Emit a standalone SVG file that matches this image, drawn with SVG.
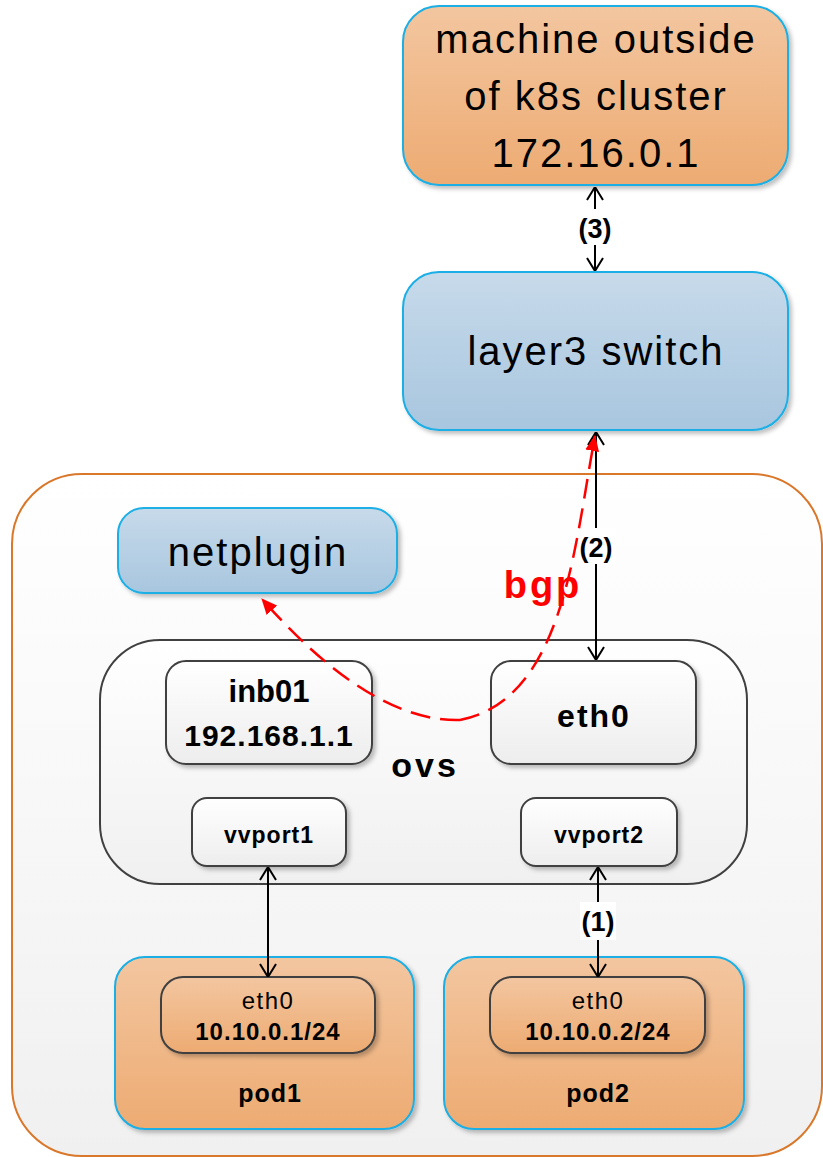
<svg xmlns="http://www.w3.org/2000/svg" width="823" height="1157" viewBox="0 0 823 1157">
  <defs>
    <linearGradient id="gOrange" x1="0" y1="0" x2="0" y2="1">
      <stop offset="0" stop-color="#F3C6A0"/>
      <stop offset="1" stop-color="#EDAB72"/>
    </linearGradient>
    <linearGradient id="gBlue" x1="0" y1="0" x2="0" y2="1">
      <stop offset="0" stop-color="#C7DAEA"/>
      <stop offset="1" stop-color="#A8C6DF"/>
    </linearGradient>
    <linearGradient id="gGray" x1="0" y1="0" x2="0" y2="1">
      <stop offset="0" stop-color="#FFFFFF"/>
      <stop offset="1" stop-color="#EDEDED"/>
    </linearGradient>
    <linearGradient id="gPanel" x1="0" y1="0" x2="0" y2="1">
      <stop offset="0" stop-color="#FFFFFF"/>
      <stop offset="1" stop-color="#F0F0F0"/>
    </linearGradient>
    <filter id="shadow" x="-10%" y="-10%" width="130%" height="130%">
      <feDropShadow dx="3" dy="3" stdDeviation="2" flood-color="#000" flood-opacity="0.25"/>
    </filter>
    <marker id="open" viewBox="0 0 14 18" refX="14" refY="9" markerWidth="14" markerHeight="18" markerUnits="userSpaceOnUse" orient="auto-start-reverse">
      <path d="M1,1 L14,9 L1,17" fill="none" stroke="#000" stroke-width="2"/>
    </marker>
    <marker id="redHead" viewBox="0 0 16 14" refX="15" refY="7" markerWidth="16" markerHeight="14" markerUnits="userSpaceOnUse" orient="auto">
      <path d="M0,0 L16,7 L0,14 Z" fill="#FF0000"/>
    </marker>
    <style>
      .big { font-family: "Liberation Sans", Arial, sans-serif; font-size: 40px; letter-spacing: 2px; fill: #000; text-anchor: middle; }
      .bold { font-family: "Liberation Sans", Arial, sans-serif; font-weight: bold; fill: #000; text-anchor: middle; }
      .reg { font-family: "Liberation Sans", Arial, sans-serif; fill: #000; text-anchor: middle; }
      .lbl { font-family: "Liberation Sans", Arial, sans-serif; font-weight: bold; font-size: 27px; fill: #000; text-anchor: middle; }
      .cyan { stroke: #1AAFE6; stroke-width: 2; }
      .dark { stroke: #404040; stroke-width: 2; }
      .conn { stroke: #000; stroke-width: 2; fill: none; }
      .bgp { fill: none; stroke: #FF0000; stroke-width: 2.5; stroke-dasharray: 20 10; }
    </style>
  </defs>

  <rect width="823" height="1157" fill="#FFFFFF"/>

  <!-- k8s node boundary -->
  <g id="node-host">
    <rect x="12" y="474" width="810" height="682" rx="70" ry="70" fill="url(#gPanel)" stroke="#D9772A" stroke-width="2"/>
  </g>

  <!-- external machine -->
  <g id="node-external">
    <rect x="403" y="6" width="385" height="179" rx="36" ry="36" fill="url(#gOrange)" class="cyan" filter="url(#shadow)"/>
    <text class="big" x="596" y="53">machine outside</text>
    <text class="big" x="596" y="110">of k8s cluster</text>
    <text class="big" x="596" y="167">172.16.0.1</text>
  </g>

  <!-- switch -->
  <g id="node-switch">
    <rect x="403" y="272" width="385" height="158" rx="36" ry="36" fill="url(#gBlue)" class="cyan" filter="url(#shadow)"/>
    <text class="big" x="596" y="365">layer3 switch</text>
  </g>

  <!-- netplugin -->
  <g id="node-netplugin">
    <rect x="118" y="508" width="279" height="85" rx="26" ry="26" fill="url(#gBlue)" class="cyan" filter="url(#shadow)"/>
    <text class="big" x="258" y="566">netplugin</text>
  </g>

  <!-- ovs bridge -->
  <g id="node-ovs">
    <rect x="100" y="640" width="647" height="244" rx="60" ry="60" fill="url(#gPanel)" class="dark"/>
    <text class="bold" x="425" y="777" font-size="34" letter-spacing="3">ovs</text>
  </g>

  <g id="node-inb01">
    <rect x="166" y="661" width="206" height="103" rx="20" ry="20" fill="url(#gGray)" class="dark" filter="url(#shadow)"/>
    <text class="bold" x="269" y="702" font-size="31">inb01</text>
    <text class="bold" x="269" y="746" font-size="30" letter-spacing="1">192.168.1.1</text>
  </g>

  <g id="node-eth0">
    <rect x="491" y="661" width="205" height="103" rx="20" ry="20" fill="url(#gGray)" class="dark" filter="url(#shadow)"/>
    <text class="bold" x="594" y="727" font-size="32" letter-spacing="2">eth0</text>
  </g>

  <g id="node-vvport1">
    <rect x="192" y="798" width="154" height="68" rx="15" ry="15" fill="url(#gGray)" class="dark" filter="url(#shadow)"/>
    <text class="bold" x="269" y="843" font-size="23" letter-spacing="1">vvport1</text>
  </g>

  <g id="node-vvport2">
    <rect x="521" y="798" width="156" height="68" rx="15" ry="15" fill="url(#gGray)" class="dark" filter="url(#shadow)"/>
    <text class="bold" x="599" y="843" font-size="23" letter-spacing="1">vvport2</text>
  </g>

  <!-- pods -->
  <g id="node-pod1">
    <rect x="115" y="957" width="299" height="172" rx="30" ry="30" fill="url(#gOrange)" class="cyan" filter="url(#shadow)"/>
    <rect x="161" y="977" width="214" height="76" rx="22" ry="22" fill="url(#gOrange)" class="dark" filter="url(#shadow)"/>
    <text class="reg" x="268" y="1009" font-size="24" letter-spacing="1.5">eth0</text>
    <text class="bold" x="268" y="1040" font-size="24" letter-spacing="1">10.10.0.1/24</text>
    <text class="bold" x="270" y="1102" font-size="25" letter-spacing="1">pod1</text>
  </g>

  <g id="node-pod2">
    <rect x="444" y="957" width="300" height="172" rx="30" ry="30" fill="url(#gOrange)" class="cyan" filter="url(#shadow)"/>
    <rect x="490" y="977" width="215" height="76" rx="22" ry="22" fill="url(#gOrange)" class="dark" filter="url(#shadow)"/>
    <text class="reg" x="598" y="1009" font-size="24" letter-spacing="1.5">eth0</text>
    <text class="bold" x="598" y="1040" font-size="24" letter-spacing="1">10.10.0.2/24</text>
    <text class="bold" x="598" y="1102" font-size="25" letter-spacing="1">pod2</text>
  </g>

  <!-- connectors -->
  <g id="connectors">
    <!-- (3) external machine to switch -->
    <line class="conn" x1="595" y1="187" x2="595" y2="271" marker-start="url(#open)" marker-end="url(#open)"/>
    <rect x="574" y="209" width="42" height="36" fill="#FFFFFF"/>
    <text class="lbl" x="595" y="238">(3)</text>

    <!-- (2) switch to eth0 -->
    <line class="conn" x1="596" y1="432" x2="596" y2="660" marker-start="url(#open)" marker-end="url(#open)"/>
    <rect x="576" y="528" width="40" height="36" fill="#FFFFFF"/>
    <text class="lbl" x="596" y="557">(2)</text>

    <!-- vvport1 to pod1 eth0 -->
    <line class="conn" x1="268" y1="867" x2="268" y2="977" marker-start="url(#open)" marker-end="url(#open)"/>

    <!-- (1) vvport2 to pod2 eth0 -->
    <line class="conn" x1="598" y1="867" x2="598" y2="977" marker-start="url(#open)" marker-end="url(#open)"/>
    <rect x="580" y="902" width="36" height="38" fill="#FFFFFF"/>
    <text class="lbl" x="598" y="931">(1)</text>

    <!-- bgp session path -->
    <path class="bgp" d="M 460 720 C 565 700, 575 540, 595 436" marker-end="url(#redHead)"/>
    <path class="bgp" d="M 460 720 C 390 722, 320 665, 262 599" marker-end="url(#redHead)"/>
    <text x="543" y="598" font-family="Liberation Sans, Arial, sans-serif" font-weight="bold" font-size="38" letter-spacing="3" fill="#FF0000" text-anchor="middle">bgp</text>
  </g>
</svg>
